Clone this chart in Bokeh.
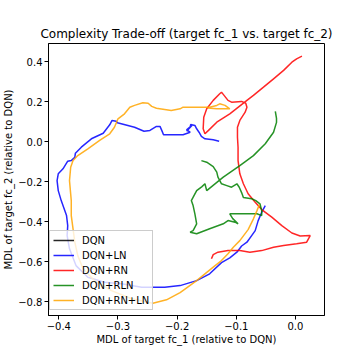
from bokeh.plotting import figure
from bokeh.models import Range1d, FixedTicker, Legend, LegendItem
from bokeh.embed import file_html
from bokeh.resources import INLINE

# ---- data (MDL relative to DQN) ----
series_names = ["DQN", "DQN+LN", "DQN+RN", "DQN+RLN", "DQN+RN+LN"]
series_colors = ["black", "#0000ff", "#ff0000", "#008000", "#ffa500"]

dqn_x = [0.0]
dqn_y = [0.0]

ln_x = [-0.051, -0.057, -0.063, -0.068, -0.074, -0.082, -0.091, -0.099, -0.111, -0.125,
        -0.145, -0.167, -0.195, -0.221, -0.238, -0.260, -0.294, -0.323, -0.351, -0.371,
        -0.382, -0.386, -0.385, -0.387, -0.396, -0.401, -0.403, -0.401, -0.393, -0.385,
        -0.379, -0.373, -0.372, -0.362, -0.345, -0.325, -0.314, -0.310, -0.303, -0.301,
        -0.272, -0.256, -0.246, -0.235, -0.229, -0.226, -0.223, -0.190, -0.178, -0.184,
        -0.175, -0.184, -0.178, -0.177, -0.170, -0.167, -0.163, -0.159, -0.153, -0.139,
        -0.129]
ln_y = [-0.319, -0.352, -0.394, -0.444, -0.469, -0.502, -0.521, -0.552, -0.580, -0.604,
        -0.660, -0.694, -0.719, -0.727, -0.727, -0.727, -0.710, -0.702, -0.677, -0.619,
        -0.535, -0.469, -0.419, -0.369, -0.294, -0.244, -0.194, -0.160, -0.135, -0.097,
        -0.094, -0.077, -0.057, -0.027, 0.015, 0.043, 0.085, 0.107, 0.103, 0.095,
        0.073, 0.053, 0.057, 0.077, 0.077, 0.057, 0.035, 0.035, 0.048, 0.060,
        0.082, 0.053, 0.073, 0.087, 0.082, 0.065, 0.048, 0.027, 0.015, 0.010,
        0.003]

rn_x = [0.011, 0.002, -0.006, -0.020, -0.037, -0.054, -0.071, -0.082, -0.111, -0.133,
        -0.147, -0.153, -0.156, -0.155, -0.150, -0.139, -0.128, -0.125, -0.122, -0.114,
        -0.108, -0.091, -0.084, -0.082, -0.085, -0.094, -0.098, -0.098, -0.097, -0.097,
        -0.094, -0.088, -0.080, -0.068, -0.057, -0.040, -0.023, -0.006, 0.008, 0.025,
        0.022, 0.019, 0.002, -0.020, -0.037, -0.057, -0.077, -0.094, -0.114, -0.131,
        -0.139, -0.142]
rn_y = [0.428, 0.415, 0.398, 0.357, 0.315, 0.273, 0.232, 0.207, 0.140, 0.098,
        0.057, 0.040, 0.065, 0.123, 0.165, 0.207, 0.240, 0.248, 0.237, 0.207,
        0.198, 0.202, 0.193, 0.173, 0.148, 0.107, 0.073, 0.023, -0.027, -0.094,
        -0.160, -0.210, -0.260, -0.302, -0.339, -0.377, -0.419, -0.456, -0.471, -0.469,
        -0.485, -0.502, -0.510, -0.519, -0.527, -0.544, -0.552, -0.544, -0.544, -0.552,
        -0.564, -0.585]

rln_x = [-0.159, -0.150, -0.139, -0.133, -0.131, -0.125, -0.116, -0.108, -0.099, -0.095,
         -0.091, -0.088, -0.074, -0.067, -0.060, -0.057, -0.057, -0.065, -0.082, -0.094,
         -0.111, -0.106, -0.097, -0.102, -0.114, -0.122, -0.145, -0.167, -0.178, -0.173,
         -0.167, -0.170, -0.173, -0.176, -0.167, -0.158, -0.153, -0.150, -0.122, -0.094,
         -0.071, -0.051, -0.037, -0.032, -0.032, -0.034]
rln_y = [-0.094, -0.102, -0.124, -0.152, -0.177, -0.210, -0.219, -0.227, -0.210, -0.227,
         -0.254, -0.279, -0.285, -0.294, -0.310, -0.344, -0.369, -0.360, -0.360, -0.360,
         -0.360, -0.384, -0.410, -0.402, -0.394, -0.410, -0.435, -0.460, -0.452, -0.444,
         -0.410, -0.360, -0.319, -0.294, -0.244, -0.224, -0.210, -0.244, -0.177, -0.119,
         -0.069, -0.010, 0.048, 0.097, 0.117, 0.152]

rnln_x = [-0.061, -0.065, -0.071, -0.080, -0.094, -0.105, -0.114, -0.125, -0.139, -0.167,
          -0.195, -0.218, -0.241, -0.277, -0.311, -0.340, -0.359, -0.368, -0.373, -0.376,
          -0.379, -0.379, -0.382, -0.380, -0.376, -0.368, -0.351, -0.331, -0.314, -0.306,
          -0.300, -0.289, -0.280, -0.272, -0.258, -0.249, -0.243, -0.235, -0.210, -0.195,
          -0.190, -0.173, -0.145, -0.133, -0.128, -0.119, -0.111, -0.133, -0.148]
rnln_y = [-0.314, -0.344, -0.385, -0.439, -0.494, -0.527, -0.560, -0.594, -0.627, -0.694,
          -0.754, -0.790, -0.807, -0.785, -0.744, -0.694, -0.635, -0.569, -0.502, -0.435,
          -0.369, -0.294, -0.194, -0.127, -0.094, -0.069, -0.035, 0.007, 0.040, 0.073,
          0.115, 0.140, 0.173, 0.182, 0.195, 0.193, 0.177, 0.168, 0.157, 0.165,
          0.173, 0.173, 0.173, 0.182, 0.190, 0.182, 0.165, 0.165, 0.169]

x_ticks = [-0.4, -0.3, -0.2, -0.1, 0.0]
x_tick_labels = ["\u22120.4", "\u22120.3", "\u22120.2", "\u22120.1", "0.0"]
y_ticks = [-0.8, -0.6, -0.4, -0.2, 0.0, 0.2, 0.4]
y_tick_labels = ["\u22120.8", "\u22120.6", "\u22120.4", "\u22120.2", "0.0", "0.2", "0.4"]

title_text = "Complexity Trade-off (target fc_1 vs. target fc_2)"
x_label = "MDL of target fc_1 (relative to DQN)"
y_label = "MDL of target fc_2 (relative to DQN)"

FONT = "DejaVu Sans"

p = figure(width=360, height=360, output_backend="svg", toolbar_location=None,
           x_range=Range1d(-0.4175, 0.04915), y_range=Range1d(-0.8685, 0.4915),
           min_border_left=45, min_border_right=36, min_border_top=43, min_border_bottom=45,
           title=title_text)

p.title.text_font = FONT
p.title.text_font_size = "12px"
p.title.text_font_style = "normal"
p.title.align = "center"
p.title.text_color = "black"
p.title.standoff = 5

p.grid.visible = False
p.outline_line_color = "black"
p.outline_line_width = 1
p.outline_line_alpha = 1

for ax, ticks, labels, lab in ((p.xaxis[0], x_ticks, x_tick_labels, x_label),
                               (p.yaxis[0], y_ticks, y_tick_labels, y_label)):
    ax.ticker = FixedTicker(ticks=ticks)
    ax.major_label_overrides = {t: l for t, l in zip(ticks, labels)}
    ax.axis_label = lab
    ax.axis_label_text_font = FONT
    ax.axis_label_text_font_size = "10px"
    ax.axis_label_text_font_style = "normal"
    ax.axis_label_text_color = "black"
    ax.major_label_text_font = FONT
    ax.major_label_text_font_size = "10px"
    ax.major_label_text_color = "black"
    ax.minor_tick_line_color = None
    ax.major_tick_in = 0
    ax.major_tick_out = 4
    ax.major_tick_line_color = "black"
    ax.axis_line_color = "black"
    ax.major_label_standoff = 2
    ax.axis_label_standoff = 1

all_x = [dqn_x, ln_x, rn_x, rln_x, rnln_x]
all_y = [dqn_y, ln_y, rn_y, rln_y, rnln_y]

items = []
for name, xs, ys, c in zip(series_names, all_x, all_y, series_colors):
    r = p.line(xs, ys, line_color=c, line_width=1.5, line_alpha=0.85)
    items.append(LegendItem(label=name, renderers=[r]))

legend = Legend(items=items, location=(1, 5))
legend.padding = 3
legend.spacing = 3
legend.glyph_height = 12
legend.label_height = 12
legend.glyph_width = 21
legend.label_standoff = 8
legend.label_text_font = FONT
legend.label_text_font_size = "10px"
legend.label_text_color = "black"
legend.border_line_color = "#cccccc"
legend.border_line_alpha = 1
legend.background_fill_alpha = 0.8
p.add_layout(legend)

open("out.html", "w").write(file_html(p, INLINE))
